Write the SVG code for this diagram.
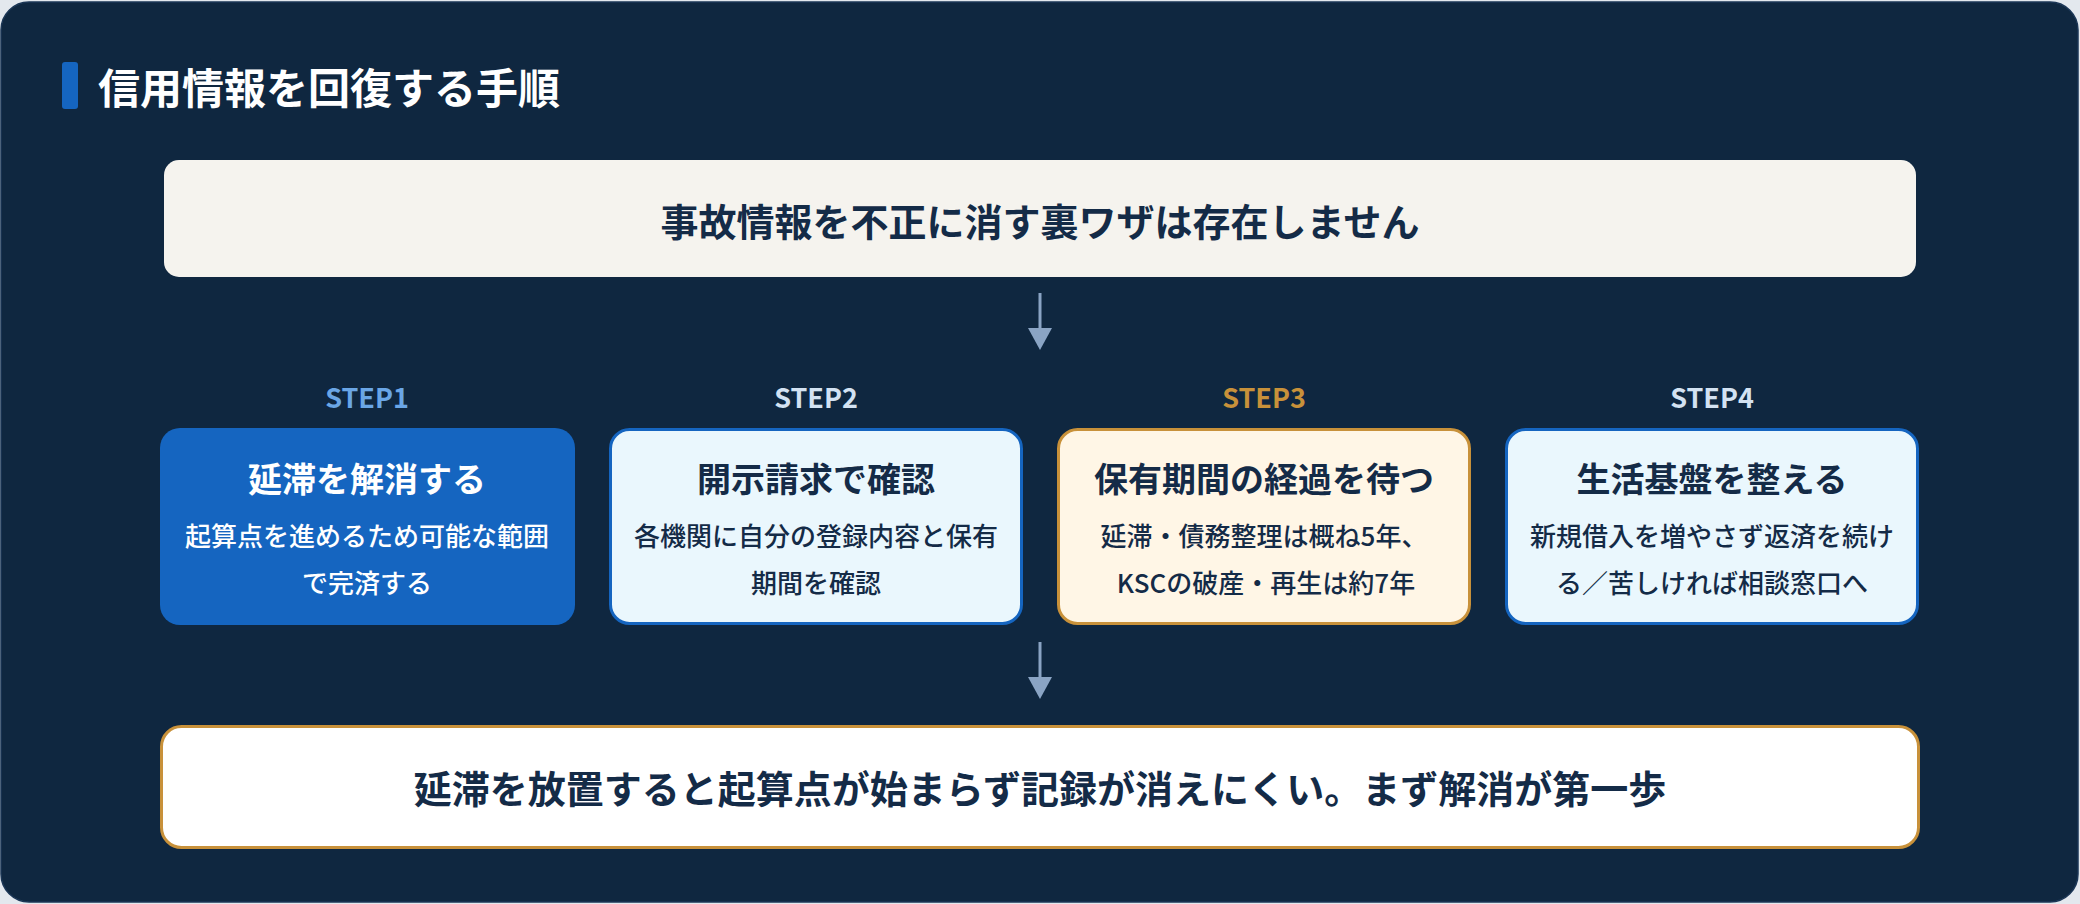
<svg xmlns="http://www.w3.org/2000/svg" width="2080" height="904" viewBox="0 0 2080 904">
  <defs>
    <style>
      text { font-family: "Noto Sans CJK JP", "Noto Sans", sans-serif; font-weight: 700; text-anchor: middle; }
      .title { font-size: 42px; fill: #ffffff; text-anchor: start; }
      .banner { font-size: 38px; fill: #142b47; }
      .step { font-size: 27px; }
      .ntitle { font-size: 34px; fill: #142b47; }
      .nsub { font-size: 26px; font-weight: 500; fill: #142b47; }
      .light { fill: #ffffff; }
      .conn { stroke: #8aa4c4; stroke-width: 3; fill: none; }
    </style>
  </defs>

  <rect x="0" y="0" width="2080" height="904" fill="#e3e8ee"/>
  <rect x="1" y="2" width="2077" height="900" rx="28" fill="#0f2740" stroke="#1b3656" stroke-width="1.5"/>

  <g id="title">
    <rect x="62" y="62" width="16" height="47" rx="3" fill="#1565c0"/>
    <text class="title" x="98" y="104">信用情報を回復する手順</text>
  </g>

  <g id="banner">
    <rect x="164" y="160" width="1752" height="117" rx="15" fill="#f5f3ee"/>
    <text class="banner" x="1040" y="236">事故情報を不正に消す裏ワザは存在しません</text>
  </g>

  <g id="connectors">
    <path class="conn" d="M1040,293 V329" />
    <path d="M1028,328 L1052,328 L1040,350 Z" fill="#8aa4c4"/>
    <path class="conn" d="M1040,642 V678" />
    <path d="M1028,677 L1052,677 L1040,699 Z" fill="#8aa4c4"/>
  </g>

  <g id="step1">
    <text class="step" x="367" y="408" fill="#6aa6e6">STEP1</text>
    <rect x="160" y="428" width="415" height="197" rx="20" fill="#1565c0"/>
    <text class="ntitle light" x="367" y="492">延滞を解消する</text>
    <text class="nsub light" x="367" y="546">起算点を進めるため可能な範囲</text>
    <text class="nsub light" x="367" y="593">で完済する</text>
  </g>

  <g id="step2">
    <text class="step" x="816" y="408" fill="#d3e2f2">STEP2</text>
    <rect x="610.5" y="429.5" width="411" height="194" rx="19" fill="#eaf7fd" stroke="#1565c0" stroke-width="3"/>
    <text class="ntitle" x="816" y="492">開示請求で確認</text>
    <text class="nsub" x="816" y="546">各機関に自分の登録内容と保有</text>
    <text class="nsub" x="816" y="593">期間を確認</text>
  </g>

  <g id="step3">
    <text class="step" x="1264" y="408" fill="#c8913a">STEP3</text>
    <rect x="1058.5" y="429.5" width="411" height="194" rx="19" fill="#fff6e6" stroke="#c8913a" stroke-width="3"/>
    <text class="ntitle" x="1264" y="492">保有期間の経過を待つ</text>
    <text class="nsub" x="1264" y="546">延滞・債務整理は概ね5年、</text>
    <text class="nsub" x="1266" y="593">KSCの破産・再生は約7年</text>
  </g>

  <g id="step4">
    <text class="step" x="1712" y="408" fill="#d3e2f2">STEP4</text>
    <rect x="1506.5" y="429.5" width="411" height="194" rx="19" fill="#eaf7fd" stroke="#1565c0" stroke-width="3"/>
    <text class="ntitle" x="1712" y="492">生活基盤を整える</text>
    <text class="nsub" x="1712" y="546">新規借入を増やさず返済を続け</text>
    <text class="nsub" x="1712" y="593">る／苦しければ相談窓口へ</text>
  </g>

  <g id="conclusion">
    <rect x="161.5" y="726.5" width="1757" height="121" rx="20" fill="#ffffff" stroke="#c8913a" stroke-width="3"/>
    <text class="banner" x="1040" y="803">延滞を放置すると起算点が始まらず記録が消えにくい。まず解消が第一歩</text>
  </g>
</svg>
